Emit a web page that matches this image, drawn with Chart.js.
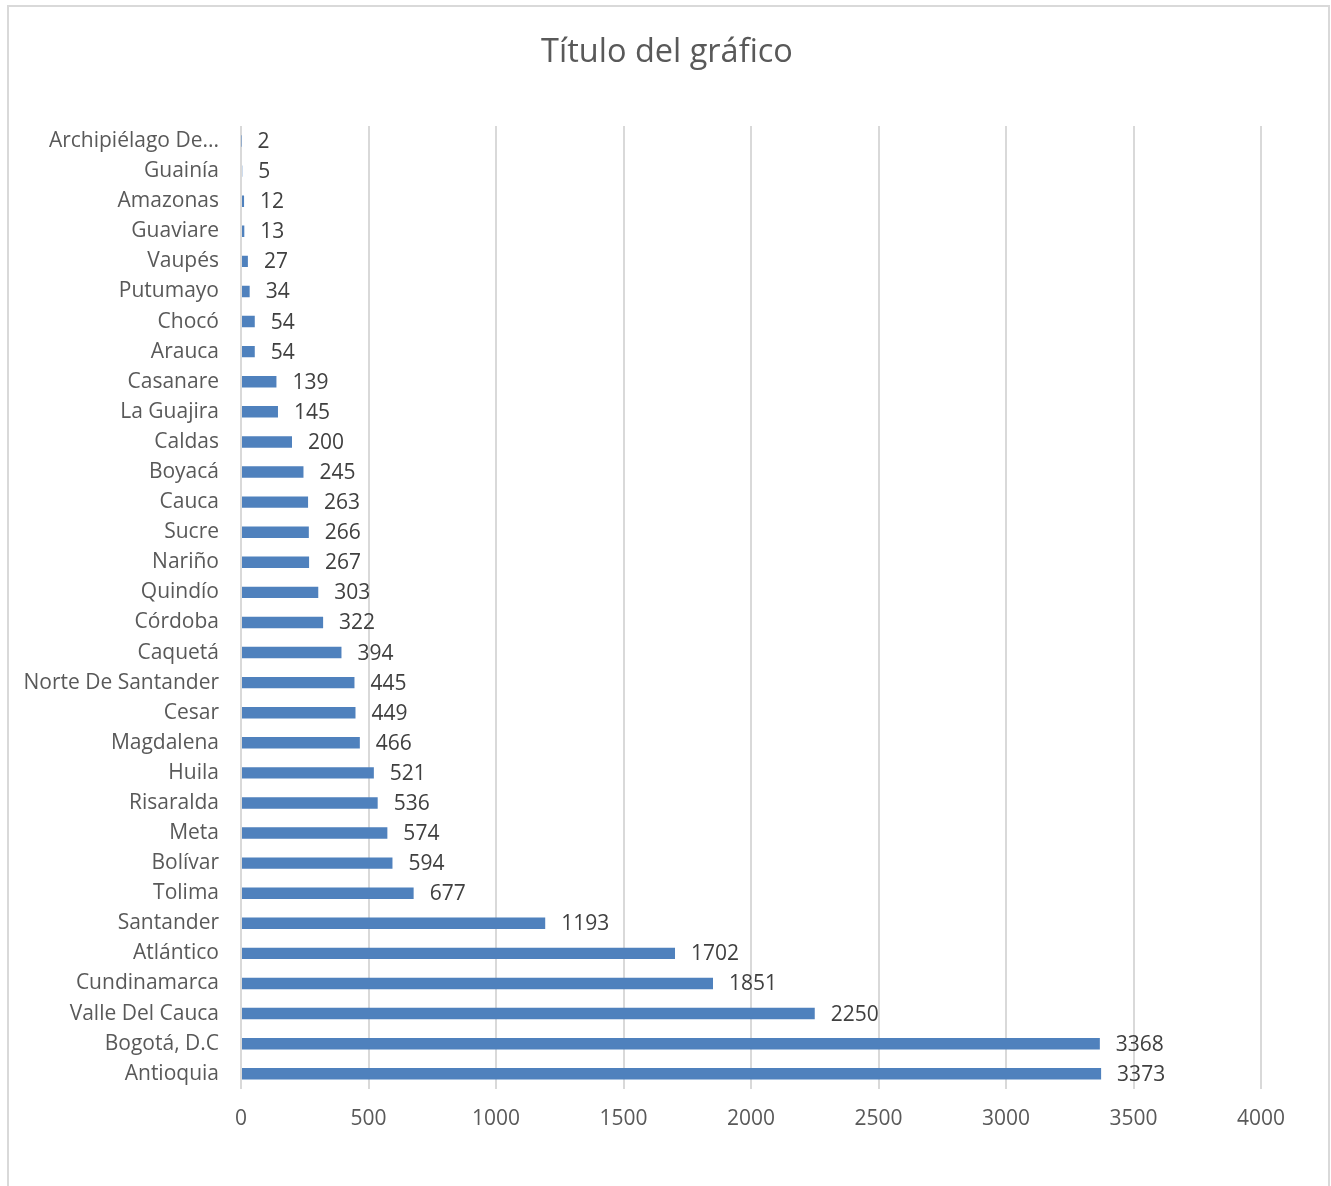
<!DOCTYPE html>
<html>
<head>
<meta charset="utf-8">
<script src="https://cdn.jsdelivr.net/npm/chart.js@4/dist/chart.umd.min.js"></script>
<style>
    body { margin: 0; background: #fff; }
    #frame { position: absolute; left: 7px; top: 5px; width: 1319px; height: 1200px; border: 2px solid #d9d9d9; }
    #wrap { position: absolute; left: 0; top: 0; width: 1331px; height: 1186px; }
</style>
</head>
<body>
<div id="frame"></div>
<div id="wrap"><canvas id="barChart"></canvas></div>
<script>
// Departamentos, de arriba hacia abajo
const categories = ['Archipiélago De...', 'Guainía', 'Amazonas', 'Guaviare', 'Vaupés', 'Putumayo', 'Chocó', 'Arauca',
    'Casanare', 'La Guajira', 'Caldas', 'Boyacá', 'Cauca', 'Sucre', 'Nariño', 'Quindío', 'Córdoba', 'Caquetá',
    'Norte De Santander', 'Cesar', 'Magdalena', 'Huila', 'Risaralda', 'Meta', 'Bolívar', 'Tolima', 'Santander',
    'Atlántico', 'Cundinamarca', 'Valle Del Cauca', 'Bogotá, D.C', 'Antioquia'];
const values = [2, 5, 12, 13, 27, 34, 54, 54, 139, 145, 200, 245, 263, 266, 267, 303, 322, 394, 445, 449, 466,
    521, 536, 574, 594, 677, 1193, 1702, 1851, 2250, 3368, 3373];
const xMax = 4000;
const xStep = 500;
const chartTitle = 'Título del gráfico';

const FONT = '"Open Sans", sans-serif';

// value labels at the end of each bar + title centred on the whole frame
const valueLabels = {
    id: 'valueLabels',
    afterDatasetsDraw(chart) {
        const ctx = chart.ctx;
        const meta = chart.getDatasetMeta(0);
        ctx.save();
        ctx.font = '21px ' + FONT;
        ctx.fillStyle = '#404040';
        ctx.textAlign = 'left';
        ctx.textBaseline = 'middle';
        meta.data.forEach((bar, i) => {
            ctx.fillText(String(values[i]), bar.x + 16, bar.y + 1);
        });

        ctx.font = '32.5px ' + FONT;
        ctx.fillStyle = '#595959';
        ctx.textAlign = 'center';
        ctx.fillText(chartTitle, 667, 53);
        ctx.restore();
    }
};

new Chart(document.getElementById('barChart'), {
    type: 'bar',
    data: {
        labels: categories,
        datasets: [{
            data: values,
            backgroundColor: '#4F81BD',
            barPercentage: 0.38,
            categoryPercentage: 1.0
        }]
    },
    options: {
        indexAxis: 'y',
        responsive: true,
        maintainAspectRatio: false,
        animation: false,
        layout: {
            padding: { left: 0, right: 70, top: 126, bottom: 36 }
        },
        plugins: {
            legend: { display: false },
            tooltip: { enabled: false },
            title: { display: false }
        },
        scales: {
            x: {
                min: 0,
                max: xMax,
                ticks: {
                    stepSize: xStep,
                    color: '#595959',
                    font: { family: FONT, size: 21 },
                    padding: 18,
                    callback: v => String(v)
                },
                grid: {
                    color: '#d9d9d9',
                    lineWidth: 2,
                    drawTicks: false
                },
                border: { display: false }
            },
            y: {
                afterFit(scale) {
                    scale.width = 241;
                },
                ticks: {
                    autoSkip: false,
                    color: '#595959',
                    font: { family: FONT, size: 21 },
                    padding: 22
                },
                grid: { display: false, drawTicks: false },
                border: { display: false }
            }
        }
    },
    plugins: [valueLabels]
});
</script>
</body>
</html>
